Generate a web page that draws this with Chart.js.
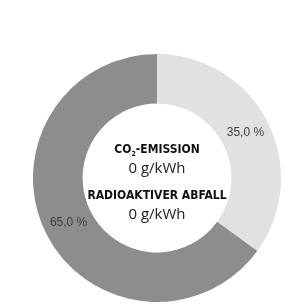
<!DOCTYPE html>
<html>
<head>
<meta charset="utf-8">
<script src="https://cdn.jsdelivr.net/npm/chart.js@4/dist/chart.umd.min.js"></script>
<style>
  html, body { margin: 0; padding: 0; background: #fff; }
  #wrap { width: 305px; height: 304px; }
</style>
</head>
<body>
<div id="wrap"><canvas id="chart" width="305" height="304"></canvas></div>
<script>
// Anteile im Ring
const categories = ['Anteil A', 'Anteil B'];
const shares = [35.0, 65.0];
const sliceColors = ['#e1e1e1', '#8d8d8d'];

// Texte in der Mitte
const centerLines = [
    { label: 'CO', sub: '2', rest: '-EMISSION', value: '0 g/kWh' },
    { label: 'RADIOAKTIVER ABFALL', sub: '', rest: '', value: '0 g/kWh' }
];

function fmtPercent(v) {
    return v.toFixed(1).replace('.', ',') + ' %';
}

const sliceLabels = {
    id: 'sliceLabels',
    afterDatasetsDraw(chart) {
        const ctx = chart.ctx;
        const meta = chart.getDatasetMeta(0);
        ctx.save();
        ctx.font = '12px "Liberation Sans", Arial, sans-serif';
        ctx.fillStyle = '#404040';
        ctx.textAlign = 'center';
        ctx.textBaseline = 'middle';
        meta.data.forEach((arc, i) => {
            const p = arc.tooltipPosition();
            ctx.fillText(fmtPercent(shares[i]), p.x, p.y);
        });
        ctx.restore();
    }
};

const centerText = {
    id: 'centerText',
    afterDraw(chart) {
        const ctx = chart.ctx;
        const meta = chart.getDatasetMeta(0);
        const cx = meta.data[0].x;
        const cy = meta.data[0].y;
        ctx.save();
        ctx.fillStyle = '#111';
        ctx.textBaseline = 'alphabetic';
        const rows = [cy - 25, cy + 21];
        centerLines.forEach((line, i) => {
            const y = rows[i];
            const boldFont = 'bold 12px "DejaVu Sans Condensed", "Liberation Sans Narrow", sans-serif';
            const subFont = 'bold 7px "DejaVu Sans Condensed", sans-serif';
            ctx.font = boldFont;
            const w1 = ctx.measureText(line.label).width;
            const w3 = ctx.measureText(line.rest).width;
            ctx.font = subFont;
            const w2 = line.sub ? ctx.measureText(line.sub).width : 0;
            let x = cx - (w1 + w2 + w3) / 2;
            ctx.textAlign = 'left';
            ctx.font = boldFont;
            ctx.fillText(line.label, x, y);
            x += w1;
            if (line.sub) {
                ctx.font = subFont;
                ctx.fillText(line.sub, x, y + 3);
                x += w2;
            }
            ctx.font = boldFont;
            ctx.fillText(line.rest, x, y);
            ctx.font = '15px "Open Sans", "Liberation Sans", sans-serif';
            ctx.textAlign = 'center';
            ctx.fillStyle = '#222';
            ctx.fillText(line.value, cx, y + 20);
            ctx.fillStyle = '#111';
        });
        ctx.restore();
    }
};

new Chart(document.getElementById('chart'), {
    type: 'doughnut',
    data: {
        labels: categories,
        datasets: [{
            data: shares,
            backgroundColor: sliceColors,
            borderWidth: 0
        }]
    },
    options: {
        responsive: false,
        animation: false,
        cutout: '60%',
        layout: { padding: { top: 54, bottom: 2, left: 33, right: 24 } },
        plugins: {
            legend: { display: false },
            tooltip: { enabled: false }
        }
    },
    plugins: [sliceLabels, centerText]
});
</script>
</body>
</html>
